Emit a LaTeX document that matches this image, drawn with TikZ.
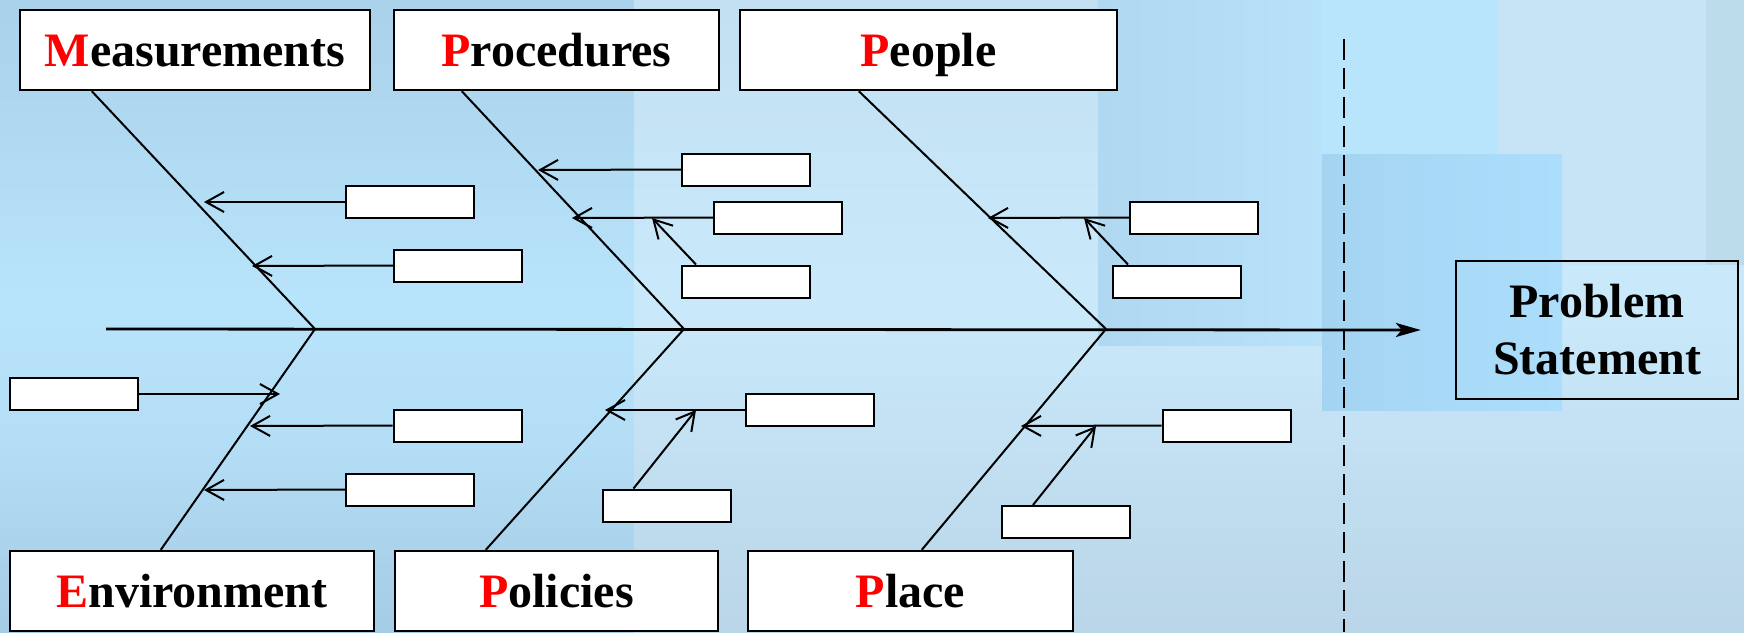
\documentclass[tikz,border=0pt]{standalone}
\usepackage{fontspec}
\setmainfont{Liberation Serif}
\usetikzlibrary{arrows.meta}

% flat background tones
\definecolor{bandA}{RGB}{176,216,240}
\definecolor{bandB}{RGB}{184,226,250}
\definecolor{bandC}{RGB}{184,228,252}
\definecolor{bandD}{RGB}{198,228,246}
\definecolor{bandE}{RGB}{188,220,236}
\definecolor{deepA}{RGB}{164,212,242}
\definecolor{deepB}{RGB}{172,222,252}
\definecolor{initial}{RGB}{255,0,0}

\tikzset{
  catbox/.style={draw, line width=1.2pt, fill=white, inner sep=0pt,
    font=\bfseries\fontsize{24}{28}\selectfont, text height=16pt, text depth=0pt,
    minimum height=40pt},
  causebox/.style={draw, line width=1pt, fill=white, inner sep=0pt,
    minimum width=64pt, minimum height=16pt},
  bone/.style={line width=1pt},
  feed/.style={line width=1pt, -{Straight Barb[length=9pt,width=10pt]}},
  spine/.style={line width=1.4pt, -{Stealth[length=12.5pt,width=7pt,inset=3pt]}},
  divider/.style={line width=1pt, dash pattern=on 10.5pt off 4pt}
}

% vertical gradient built from thin horizontal strips:
% #1 = left x, #2 = right x, #3 = list of segments y0/r0/g0/b0/y1/r1/g1/b1
\newcommand\stripfill[3]{%
  \foreach \ya/\ra/\ga/\ba/\yb/\rb/\gb/\bb in {#3}{
    \foreach \k in {0,...,23}{
      \pgfmathsetmacro\tt{(\k+0.5)/24}
      \pgfmathtruncatemacro\colR{\ra+(\rb-\ra)*\tt}
      \pgfmathtruncatemacro\colG{\ga+(\gb-\ga)*\tt}
      \pgfmathtruncatemacro\colB{\ba+(\bb-\ba)*\tt}
      \definecolor{stripcol}{RGB}{\colR,\colG,\colB}
      \pgfmathsetmacro\ys{\ya+(\yb-\ya)*\k/24}
      \pgfmathsetmacro\ye{\ya+(\yb-\ya)*(\k+1)/24+0.6}
      \fill[stripcol] (#1,\ys) rectangle (#2,\ye);
    }
  }%
}

\begin{document}
\begin{tikzpicture}[x=0.5pt,y=-0.5pt]
\useasboundingbox (0,0) rectangle (1744,632);

% ---- background panels ----
\stripfill{634}{1744}{0/194/224/242/300/202/234/252, 300/202/234/252/632/186/214/232}
\stripfill{0}{634}{0/170/210/234/300/184/228/252, 300/184/228/252/450/180/222/246, 450/180/222/246/632/164/204/228}
\shade[left color=bandA, right color=bandB] (1098,0) rectangle (1322,345);
\fill[bandC] (1322,0) rectangle (1498,154);
\fill[bandD] (1498,0) rectangle (1706,265);
\fill[bandE] (1706,0) rectangle (1744,265);
\shade[left color=deepA, right color=deepB] (1322,154) rectangle (1562,410);

% ---- separator ----
\coordinate (dtop) at (1344,39);
\coordinate (dbot) at (1344,632);
\draw[divider] (dtop) -- (dbot);

% ---- category boxes ----
\node[catbox, minimum width=175pt]   (M)  at (195,50)    {\textcolor{initial}{M}easurements};
\node[catbox, minimum width=162.5pt] (Pr) at (556.5,50)  {\textcolor{initial}{P}rocedures};
\node[catbox, minimum width=188.5pt] (Pe) at (928.5,50)  {\textcolor{initial}{P}eople};
\node[catbox, minimum width=182pt]   (E)  at (192,591)   {\textcolor{initial}{E}nvironment};
\node[catbox, minimum width=161.5pt] (Po) at (556.5,591) {\textcolor{initial}{P}olicies};
\node[catbox, minimum width=162.5pt] (Pl) at (910.5,591) {\textcolor{initial}{P}lace};

\node[draw, line width=1.2pt, inner sep=0pt, minimum width=141pt, minimum height=69pt,
      align=center, font=\bfseries\fontsize{24}{28.5}\selectfont] (PS) at (1597,330)
      {Problem\\Statement};

% ---- spine ----
\coordinate (tail) at (106,329);
\coordinate (J1) at (315,329);
\coordinate (J2) at (684,329);
\coordinate (J3) at (1106,329);
\draw[spine] (tail) -- ([xshift=-17pt]PS.west);

% ---- bones ----
\draw[bone] ([xshift=36.5pt]M.south west)  -- (J1);
\draw[bone] ([xshift=34.5pt]Pr.south west) -- (J2);
\draw[bone] ([xshift=60pt]Pe.south west)   -- (J3);
\draw[bone] ([xshift=76pt]E.north west)    -- (J1);
\draw[bone] ([xshift=46pt]Po.north west)   -- (J2);
\draw[bone] ([xshift=87.5pt]Pl.north west) -- (J3);

% ---- cause boxes ----
\node[causebox] (s1)  at (410,202)    {};
\node[causebox] (s2)  at (458,265.5)  {};
\node[causebox] (s3)  at (746,169.5)  {};
\node[causebox] (s4)  at (778,217.5)  {};
\node[causebox] (s5)  at (746,281.5)  {};
\node[causebox] (s6)  at (1194,217.5) {};
\node[causebox] (s7)  at (1177,281.5) {};
\node[causebox] (s8)  at (74,394)     {};
\node[causebox] (s9)  at (457.5,425.5){};
\node[causebox] (s10) at (410,489.5)  {};
\node[causebox] (s11) at (810,410)    {};
\node[causebox] (s12) at (666.5,505.5){};
\node[causebox] (s13) at (1226.5,425.5){};
\node[causebox] (s14) at (1066,522)   {};

% ---- arrow targets on the bones ----
\coordinate (a1)  at (204,202);
\coordinate (a2)  at (252,266);
\coordinate (a3)  at (538,170);
\coordinate (a4)  at (572,218);
\coordinate (a5)  at (652,218);
\coordinate (a6)  at (988,218);
\coordinate (a7)  at (1084,218);
\coordinate (a8)  at (280,394);
\coordinate (a9)  at (250,426);
\coordinate (a10) at (204,490);
\coordinate (a11) at (605,410);
\coordinate (a12) at (696,410);
\coordinate (a13) at (1021,426);
\coordinate (a14) at (1096,426);

% ---- cause arrows ----
\draw[feed] (s1.west)  -- (a1);
\draw[feed] (s2.west)  -- (a2);
\draw[feed] (s3.west)  -- (a3);
\draw[feed] (s4.west)  -- (a4);
\draw[feed] ([xshift=7.5pt]s5.north west) -- (a5);
\draw[feed] (s6.west)  -- (a6);
\draw[feed] ([xshift=8pt]s7.north west) -- (a7);
\draw[feed] (s8.east)  -- (a8);
\draw[feed] (s9.west)  -- (a9);
\draw[feed] (s10.west) -- (a10);
\draw[feed] (s11.west) -- (a11);
\draw[feed] ([xshift=16pt]s12.north west) -- (a12);
\draw[feed] (s13.west) -- (a13);
\draw[feed] ([xshift=16pt]s14.north west) -- (a14);
\end{tikzpicture}
\end{document}
